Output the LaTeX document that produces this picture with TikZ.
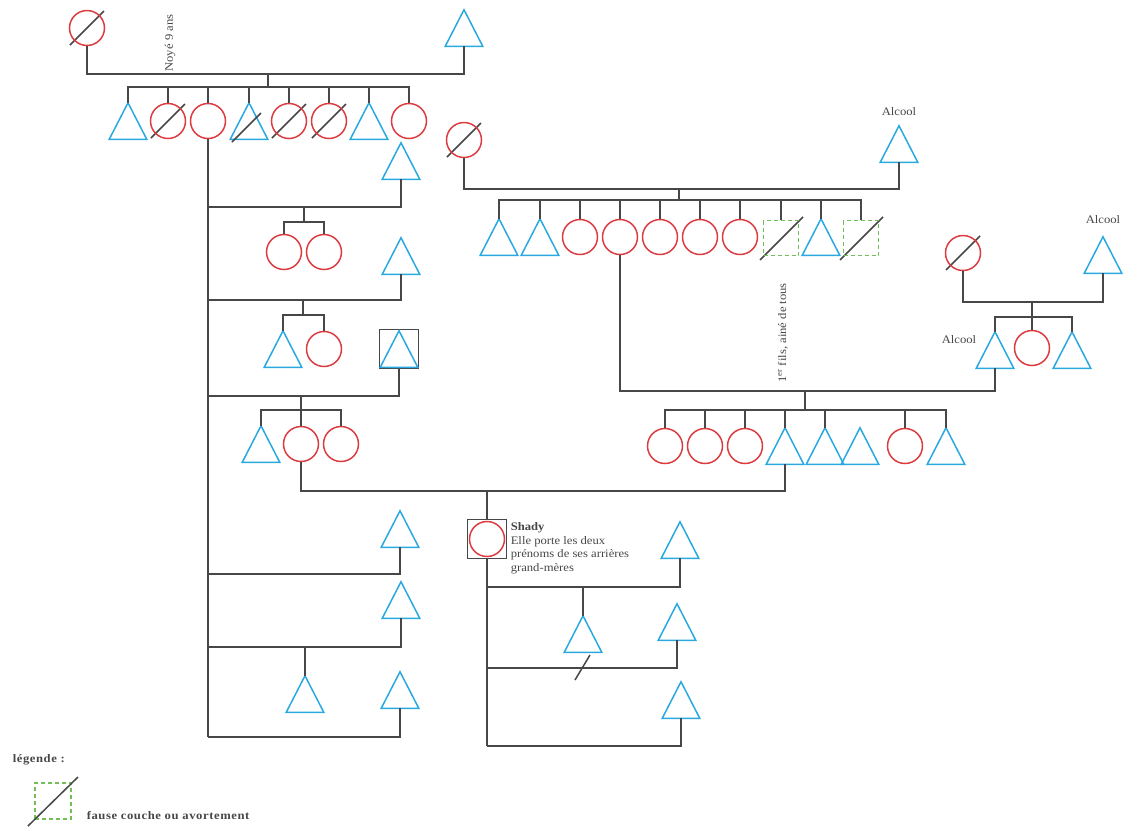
\documentclass[tikz,border=0pt]{standalone}
\usepackage{fontspec}
\setmainfont{Liberation Serif}
\newfontfamily\widefont{Liberation Serif}[FakeStretch=1.1]
\newfontfamily\legendfont{Liberation Serif}[FakeStretch=1.1,LetterSpace=5]
\usetikzlibrary{arrows.meta,calc,positioning}
\definecolor{ink}{HTML}{474747}
\definecolor{girl}{HTML}{DC3B3F}
\definecolor{boy}{HTML}{2AA8E0}
\definecolor{lost}{HTML}{72BF58}

\begin{document}
\begin{tikzpicture}[x=1pt,y=-1pt,ink,line width=1.5pt,
  fem/.style={circle,draw=girl,minimum size=35pt,inner sep=0pt},
  male/.style={minimum width=36pt,minimum height=35pt,inner sep=0pt,
    append after command={\pgfextra{\draw[boy,line join=miter] (\tikzlastnode.south west)--(\tikzlastnode.north)--(\tikzlastnode.south east)--cycle;}}},
  dead/.style={append after command={\pgfextra{\draw[ink] ([shift={(-17,17)}]\tikzlastnode.center)--([shift={(17,-17)}]\tikzlastnode.center);}}},
  lostbox/.style={draw=lost,dash pattern=on 4pt off 3pt,minimum size=35pt,inner sep=0pt},
  miss/.style={lostbox,append after command={\pgfextra{\draw[ink,solid] ([shift={(-21,22)}]\tikzlastnode.center)--([shift={(22,-21)}]\tikzlastnode.center);}}},
  framed/.style={draw=ink,minimum size=39pt,inner sep=0pt},
  note/.style={font=\widefont\fontsize{11.5}{13.5}\selectfont,text=ink,inner sep=0pt},
  legend/.style={font=\legendfont\fontsize{11.5}{13}\selectfont\bfseries,text=ink,inner sep=0pt}]
\useasboundingbox (0,0) rectangle (1125,831);

\node[fem,dead] (aieule) at (87,28) {};
\node[male] (aieul) at (464,28) {};
\node[note,rotate=90] (noye) at (170,43) {Noyé 9 ans};
\coordinate (u1) at (268,74);
\coordinate (s1) at (268,87);
\draw (aieule.south) |- (u1) -| (aieul.south);
\draw (u1) -- (s1);

\node[male] (g1) at (128,121) {};
\node[fem,dead] (g2) at (168,121) {};
\node[fem] (gm) at (208,121) {};
\node[male] (g4) at (249,121) {};
\node[fem,dead] (g5) at (289,121) {};
\node[fem,dead] (g6) at (329,121) {};
\node[male] (g7) at (369,121) {};
\node[fem] (g8) at (409,121) {};
\draw (g4.center) ++(-17,21) -- ++(29,-29);
\draw (g1.north) |- (s1) (g2.north) |- (s1) (gm.north) |- (s1) (g4.north) |- (s1)
  (g5.north) |- (s1) (g6.north) |- (s1) (g7.north) |- (s1) (g8.north) |- (s1);

\coordinate (m1) at (208,207);
\coordinate (m2) at (208,300);
\coordinate (m3) at (208,396);
\coordinate (m4) at (208,574);
\coordinate (m5) at (208,647);
\coordinate (m6) at (208,737);
\draw (gm.south) -- (m6);

\node[male] (p1) at (401,161) {};
\node[fem] (c21) at (284,252) {};
\node[fem] (c22) at (324,252) {};
\coordinate (s2) at (304,222);
\draw (p1.south) |- (m1);
\draw (s2 |- m1) -- (s2);
\draw (c21.north) |- (s2) (c22.north) |- (s2);

\node[male] (p2) at (401,256) {};
\node[male] (c31) at (283,349) {};
\node[fem] (c32) at (324,349) {};
\coordinate (s3) at (303,315);
\draw (p2.south) |- (m2);
\draw (s3 |- m2) -- (s3);
\draw (c31.north) |- (s3) (c32.north) |- (s3);

\node[framed] (p3box) at (399,349) {};
\node[male] (p3) at (399,349) {};
\node[male] (c41) at (261,444) {};
\node[fem] (mere) at (301,444) {};
\node[fem] (c43) at (341,444) {};
\coordinate (s4) at (301,410);
\draw (p3box.south) |- (m3);
\draw (s4 |- m3) -- (s4);
\draw (c41.north) |- (s4) (mere.north) |- (s4) (c43.north) |- (s4);

\node[male] (p4) at (400,529) {};
\draw (p4.south) |- (m4);
\node[male] (p5) at (401,600) {};
\node[male] (c51) at (305,694) {};
\draw (p5.south) |- (m5);
\draw (c51.north) -- (c51.north |- m5);
\node[male] (p6) at (400,690) {};
\draw (p6.south) |- (m6);

\node[fem,dead] (aieule2) at (464,140) {};
\node[male] (aieul2) at (899,144) {};
\node[note] (alc1) at (899,112) {Alcool};
\coordinate (u10) at (679,189);
\coordinate (s10) at (679,200);
\draw (aieule2.south) |- (u10) -| (aieul2.south);
\draw (u10) -- (s10);
\node[male] (t1) at (499,237) {};
\node[male] (t2) at (540,237) {};
\node[fem] (t3) at (580,237) {};
\node[fem] (gmp) at (620,237) {};
\node[fem] (t5) at (660,237) {};
\node[fem] (t6) at (700,237) {};
\node[fem] (t7) at (740,237) {};
\node[miss] (t8) at (781,238) {};
\node[male] (t9) at (821,237) {};
\node[miss] (t10) at (861,238) {};
\draw (t1.north) |- (s10) (t2.north) |- (s10) (t3.north) |- (s10) (gmp.north) |- (s10)
  (t5.north) |- (s10) (t6.north) |- (s10) (t7.north) |- (s10) (t8.north) |- (s10)
  (t9.north) |- (s10) (t10.north) |- (s10);

\node[fem,dead] (aieule3) at (963,253) {};
\node[male] (aieul3) at (1103,255) {};
\node[note] (alc2) at (1103,220) {Alcool};
\coordinate (u12) at (1032,302);
\coordinate (s12) at (1032,317);
\draw (aieule3.south) |- (u12) -| (aieul3.south);
\draw (u12) -- (s12);
\node[male] (gpp) at (995,350) {};
\node[fem] (r2) at (1032,348) {};
\node[male] (r3) at (1072,350) {};
\node[note] (alc3) at (959,340) {Alcool};
\draw (gpp.north) |- (s12) (r2.north) |- (s12) (r3.north) |- (s12);

\coordinate (u11) at (805,391);
\coordinate (s11) at (805,410);
\draw (gmp.south) |- (u11) -| (gpp.south);
\draw (u11) -- (s11);
\node[fem] (k1) at (665,446) {};
\node[fem] (k2) at (705,446) {};
\node[fem] (k3) at (745,446) {};
\node[male] (pere) at (785,446) {};
\node[male] (k5) at (825,446) {};
\node[male] (k6) at (860,446) {};
\node[fem] (k7) at (905,446) {};
\node[male] (k8) at (946,446) {};
\node[note,rotate=90] (aine) at (783,333) {1\textsuperscript{er} fils, ainé de tous};
\draw (k1.north) |- (s11) (k2.north) |- (s11) (k3.north) |- (s11) (pere.north) |- (s11)
  (k5.north) |- (s11) (k7.north) |- (s11) (k8.north) |- (s11);

\coordinate (u5) at (487,491);
\draw (mere.south) |- (u5) -| (pere.south);
\node[framed] (shadybox) at (487,539) {};
\node[fem] (shady) at (487,539) {};
\draw (u5) -- (shadybox.north);
\node[note,anchor=north west,align=left] (shadytxt) at (510,522)
  {\textbf{Shady}\\Elle porte les deux\\prénoms de ses arrières\\grand-mères};
\coordinate (n1) at (583,587);
\coordinate (n2) at (583,668);
\coordinate (n3) at (487,746);
\draw (shadybox.south) -- (n3);
\node[male] (q1) at (680,540) {};
\draw (q1.south) |- (shadybox.south |- n1);
\node[male] (fils) at (583,634) {};
\draw (fils.north) -- (n1);
\node[male] (q2) at (677,622) {};
\draw (q2.south) |- (shadybox.south |- n2);
\draw (n2) ++(-8,12) -- ++(15,-25);
\node[male] (q3) at (681,700) {};
\draw (q3.south) |- (n3);

\node[legend,anchor=west] (leg) at (12,760) {légende :};
\node[lostbox,minimum size=36pt] (legbox) at (53,801) {};
\draw (legbox.center) ++(-25,25) -- ++(50,-49);
\node[legend,anchor=west] (legtxt) at (86,816) {fause couche ou avortement};
\end{tikzpicture}
\end{document}
